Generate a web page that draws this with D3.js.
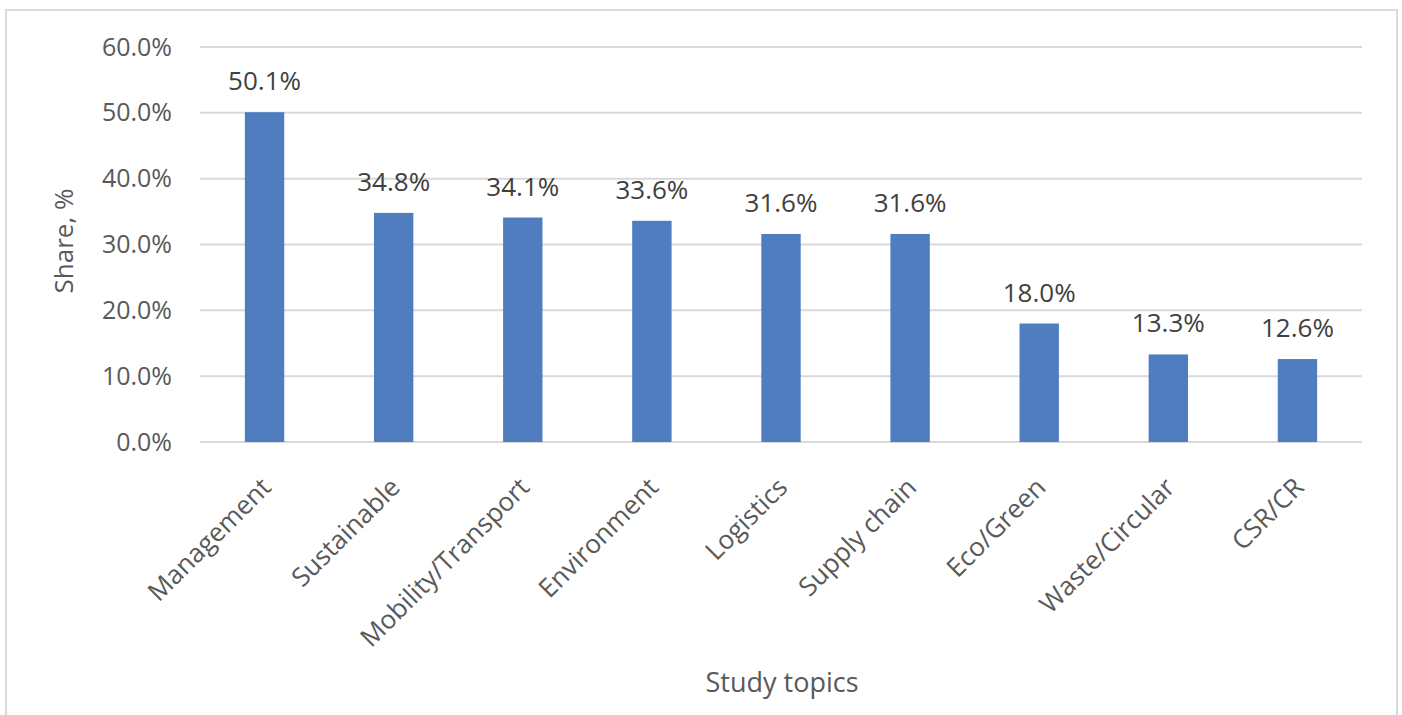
<!DOCTYPE html>
<html><head><meta charset="utf-8">
<script src="https://cdn.jsdelivr.net/npm/d3@7"></script>
<style>html,body{margin:0;padding:0;background:#fff;}</style>
</head><body>
<svg id="chart" width="1402" height="715"></svg>
<script>
const categories = ["Management","Sustainable","Mobility/Transport","Environment","Logistics","Supply chain","Eco/Green","Waste/Circular","CSR/CR"];
const values = [50.1, 34.8, 34.1, 33.6, 31.6, 31.6, 18.0, 13.3, 12.6];
const yTicks = [0, 10, 20, 30, 40, 50, 60];

(function () {
const svg = d3.select("#chart");
const font = "'Open Sans', 'Liberation Sans', sans-serif";
const textColor = "#595959";

svg.append("rect").attr("x", 6).attr("y", 10).attr("width", 1391).attr("height", 712)
  .attr("fill", "#fff").attr("stroke", "#d9d9d9").attr("stroke-width", 2);

const pl = 200, pr = 1362, pt = 47, pb = 442;
const x = d3.scaleBand().domain(categories).range([pl, pr]).paddingInner(0.695).paddingOuter(0.3475);
const y = d3.scaleLinear().domain([0, 60]).range([pb, pt]);

const g = svg.append("g");
g.selectAll("line.grid").data(yTicks).join("line").attr("class", "grid")
  .attr("x1", pl).attr("x2", pr)
  .attr("y1", d => y(d)).attr("y2", d => y(d))
  .attr("stroke", "#d9d9d9").attr("stroke-width", 2);

const yAxis = d3.axisLeft(y).tickValues(yTicks).tickSize(0).tickPadding(28).tickFormat(d => d.toFixed(1) + "%");
const ya = svg.append("g").attr("transform", `translate(${pl},0)`).call(yAxis);
ya.select(".domain").remove();
ya.selectAll("text").attr("font-family", font).attr("font-size", 25).attr("fill", textColor);

g.selectAll("rect.bar").data(values).join("rect").attr("class", "bar")
  .attr("x", (d, i) => x(categories[i])).attr("width", x.bandwidth())
  .attr("y", d => y(d)).attr("height", d => y(0) - y(d))
  .attr("fill", "#4f7dc0");

g.selectAll("text.lbl").data(values).join("text").attr("class", "lbl")
  .attr("x", (d, i) => x(categories[i]) + x.bandwidth() / 2)
  .attr("y", d => y(d) - 22)
  .attr("text-anchor", "middle")
  .attr("font-family", font).attr("font-size", 26).attr("fill", "#404040")
  .text(d => d.toFixed(1) + "%");

const xAxis = d3.axisBottom(x).tickSize(0).tickPadding(0);
const xa = svg.append("g").attr("transform", `translate(0,${pb})`).call(xAxis);
xa.select(".domain").remove();
xa.selectAll("text")
  .attr("font-family", font).attr("font-size", 26).attr("fill", textColor)
  .attr("text-anchor", "end").attr("y", 0).attr("dy", 0)
  .attr("transform", "translate(8,47) rotate(-45)");

svg.append("text").attr("transform", `translate(73,241) rotate(-90)`)
  .attr("text-anchor", "middle").attr("font-family", font).attr("font-size", 26).attr("fill", textColor)
  .text("Share, %");
svg.append("text").attr("x", 782).attr("y", 692)
  .attr("text-anchor", "middle").attr("font-family", font).attr("font-size", 27).attr("fill", textColor)
  .text("Study topics");
})();
</script>
</body></html>
